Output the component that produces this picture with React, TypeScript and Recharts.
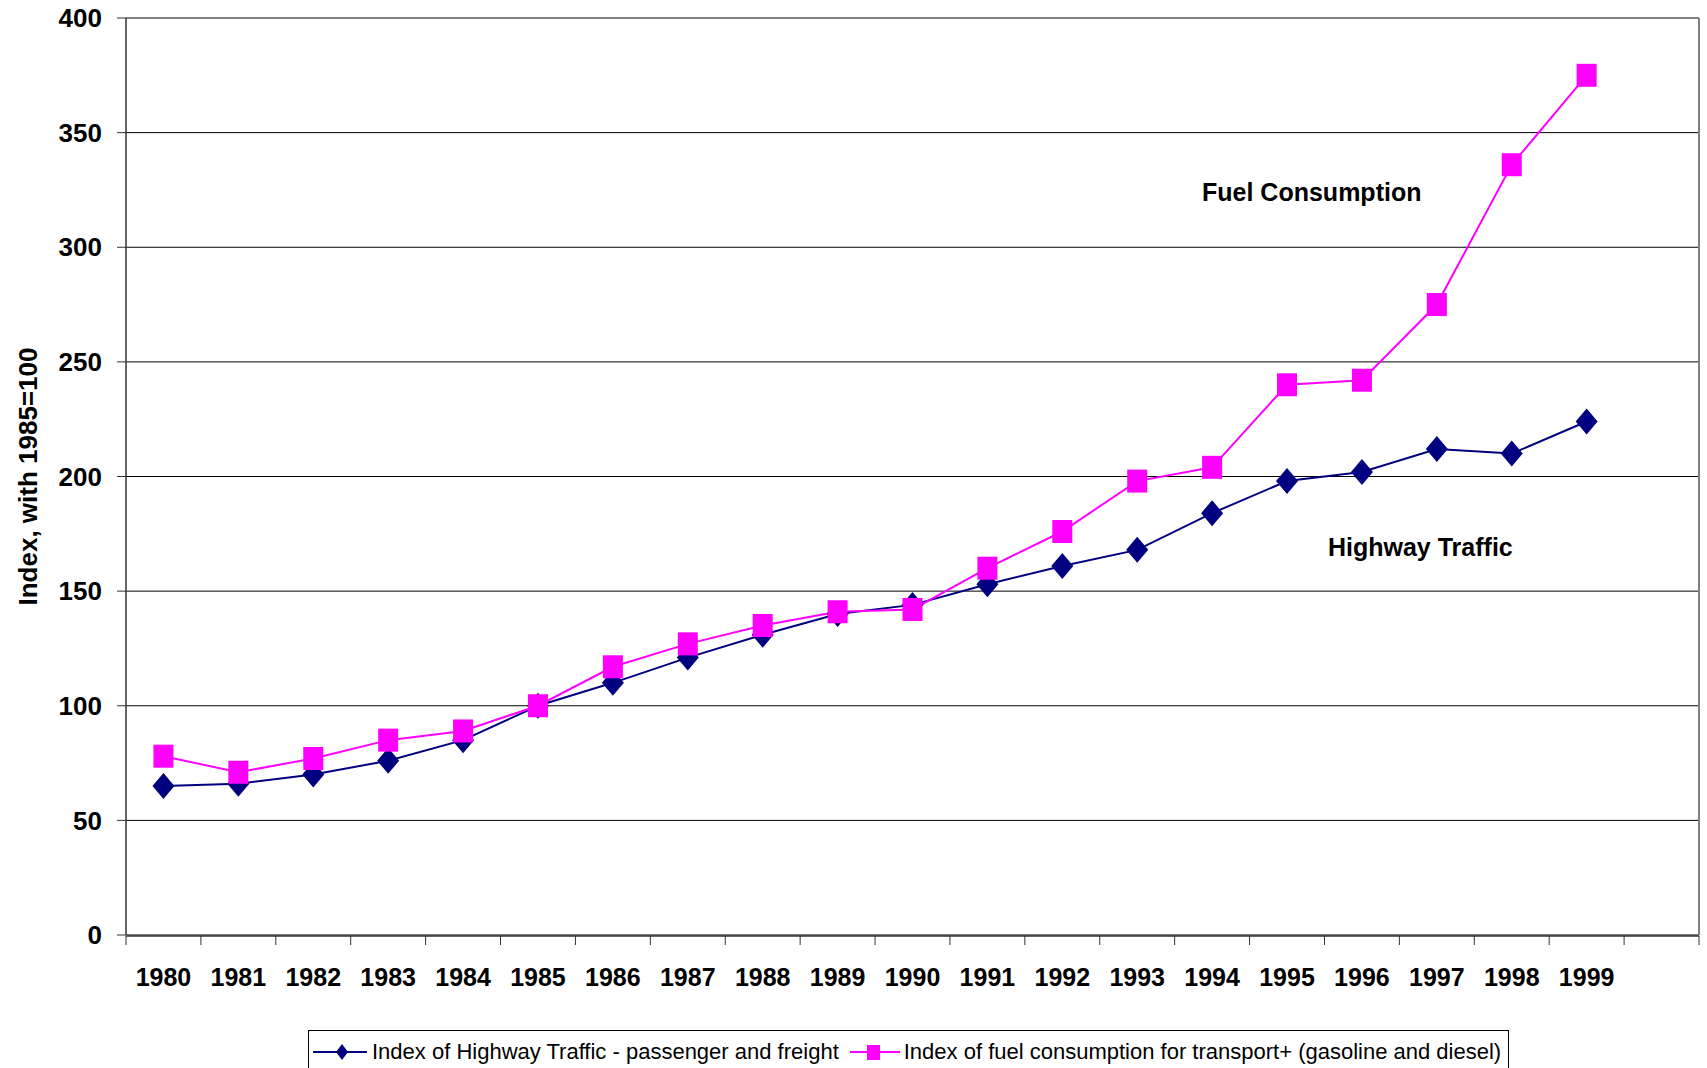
import React from 'react';
import {
  LineChart,
  Line,
  XAxis,
  YAxis,
  CartesianGrid,
  ReferenceLine,
  ReferenceDot,
  Legend,
} from 'recharts';

const years = ['1980', '1981', '1982', '1983', '1984', '1985', '1986', '1987', '1988', '1989', '1990', '1991', '1992', '1993', '1994', '1995', '1996', '1997', '1998', '1999'];
const highwayTraffic = [65, 66, 70, 76, 85, 100, 110, 121, 131, 140, 144, 153, 161, 168, 184, 198, 202, 212, 210, 224];
const fuelConsumption = [78, 71, 77, 85, 89, 100, 117, 127, 135, 141, 142, 160, 176, 198, 204, 240, 242, 275, 336, 375];
const yTicks = [0, 50, 100, 150, 200, 250, 300, 350, 400];
const seriesNames = [
  'Index of Highway Traffic - passenger and freight',
  'Index of fuel consumption for transport+ (gasoline and diesel)',
];
const annotationTexts = ['Fuel Consumption', 'Highway Traffic'];
const annotationX = [15.83, 17.28];
const annotationY = [324, 169];
const yAxisTitle = 'Index, with 1985=100';

const FONT = '"Liberation Sans", Arial, Helvetica, sans-serif';
const NAVY = '#000080';
const MAGENTA = '#FF00FF';

const slotCount = years.length + 1;
const boundaryTicks = Array.from({ length: slotCount + 1 }, (_, i) => i);
const centerTicks = years.map((_, i) => i + 0.5);

const data = years.map((year, i) => ({
  x: i + 0.5,
  year,
  highway: highwayTraffic[i],
  fuel: fuelConsumption[i],
}));

const DiamondDot = (props: any) => {
  const { cx, cy } = props;
  if (cx == null || cy == null) return null;
  return (
    <polygon
      points={`${cx},${cy - 13} ${cx + 11},${cy} ${cx},${cy + 13} ${cx - 11},${cy}`}
      fill={NAVY}
    />
  );
};

const SquareDot = (props: any) => {
  const { cx, cy } = props;
  if (cx == null || cy == null) return null;
  return <rect x={cx - 10} y={cy - 11.5} width={20} height={23} fill={MAGENTA} />;
};

const renderYLabel = (props: any) => {
  const vb = props.viewBox || { x: 0, y: 0, width: 0, height: 0 };
  const cx = vb.x + 28;
  const cy = vb.y + vb.height / 2;
  return (
    <text
      x={cx}
      y={cy}
      transform={`rotate(-90 ${cx} ${cy})`}
      textAnchor="middle"
      dominantBaseline="central"
      fontFamily={FONT}
      fontSize={26}
      fontWeight="bold"
      fill="#000"
    >
      {yAxisTitle}
    </text>
  );
};

const renderLegend = () => (
  <div
    style={{
      border: '1px solid #000',
      boxSizing: 'border-box',
      height: 70,
      width: '100%',
      background: '#fff',
      fontFamily: FONT,
      fontSize: 22,
      color: '#000',
      whiteSpace: 'nowrap',
    }}
  >
    <div style={{ display: 'flex', alignItems: 'center', height: 26, marginTop: 8, paddingLeft: 4 }}>
      <svg width={59} height={26} style={{ flex: 'none' }}>
        <line x1={0} y1={13} x2={54} y2={13} stroke={NAVY} strokeWidth={2} />
        <polygon points="29,5 35,13 29,21 23,13" fill={NAVY} />
      </svg>
      <span>{seriesNames[0]}</span>
      <svg width={54} height={26} style={{ flex: 'none', marginLeft: 11 }}>
        <line x1={0} y1={13} x2={50} y2={13} stroke={MAGENTA} strokeWidth={2} />
        <rect x={17} y={6} width={13} height={15} fill={MAGENTA} />
      </svg>
      <span>{seriesNames[1]}</span>
    </div>
  </div>
);

export default function App() {
  return (
    <div style={{ position: 'absolute', left: 0, top: 0, width: 1707, height: 1068, background: '#fff' }}>
      <LineChart
        width={1707}
        height={1068}
        data={data}
        margin={{ top: 18, right: 8, bottom: 0, left: 0 }}
      >
        <XAxis
          xAxisId="bound"
          type="number"
          dataKey="x"
          domain={[0, slotCount]}
          ticks={boundaryTicks}
          interval={0}
          height={132}
          tickSize={9}
          tickFormatter={() => ''}
          axisLine={{ stroke: '#333', strokeWidth: 1.5 }}
          tickLine={{ stroke: '#333', strokeWidth: 1 }}
          allowDataOverflow
        />
        <XAxis
          type="number"
          dataKey="x"
          domain={[0, slotCount]}
          ticks={centerTicks}
          interval={0}
          height={1}
          tickSize={0}
          tickMargin={33}
          axisLine={false}
          tickLine={false}
          tickFormatter={(v: number) => years[Math.floor(v)] ?? ''}
          tick={{ fill: '#000', fontSize: 25, fontWeight: 'bold', fontFamily: FONT }}
          allowDataOverflow
        />
        <YAxis
          type="number"
          domain={[0, 400]}
          ticks={yTicks}
          interval={0}
          width={126}
          tickSize={9}
          tickMargin={15}
          axisLine={{ stroke: '#333', strokeWidth: 1.5 }}
          tickLine={{ stroke: '#333', strokeWidth: 1 }}
          tick={{ fill: '#000', fontSize: 26, fontWeight: 'bold', fontFamily: FONT }}
          label={renderYLabel}
        />
        <CartesianGrid vertical={false} stroke="#000" strokeWidth={1} />
        <ReferenceLine y={400} stroke="#808080" strokeWidth={2} />
        <ReferenceLine xAxisId="bound" x={slotCount} stroke="#808080" strokeWidth={2} />
        <Line
          type="linear"
          dataKey="highway"
          name={seriesNames[0]}
          stroke={NAVY}
          strokeWidth={2}
          dot={<DiamondDot />}
          activeDot={false}
          isAnimationActive={false}
        />
        <Line
          type="linear"
          dataKey="fuel"
          name={seriesNames[1]}
          stroke={MAGENTA}
          strokeWidth={2}
          dot={<SquareDot />}
          activeDot={false}
          isAnimationActive={false}
        />
        {annotationTexts.map((t, i) => (
          <ReferenceDot
            key={t}
            x={annotationX[i]}
            y={annotationY[i]}
            r={0}
            fill="none"
            stroke="none"
            label={{
              value: t,
              position: 'center',
              fill: '#000',
              fontSize: 25,
              fontWeight: 'bold',
              fontFamily: FONT,
            }}
          />
        ))}
        <Legend
          layout="horizontal"
          verticalAlign="middle"
          align="center"
          wrapperStyle={{ left: 308, top: 1030, width: 1201, height: 70, bottom: 'auto', right: 'auto' }}
          content={renderLegend}
        />
      </LineChart>
    </div>
  );
}
